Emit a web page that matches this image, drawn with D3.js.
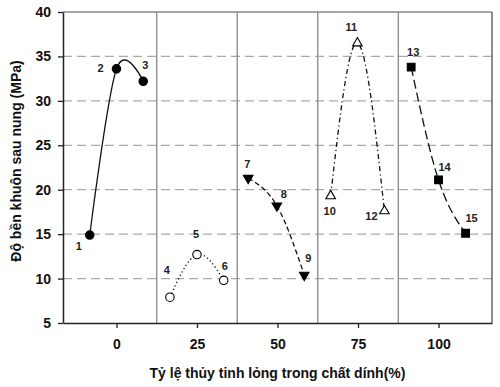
<!DOCTYPE html>
<html>
<head>
<meta charset="utf-8">
<script src="https://cdn.jsdelivr.net/npm/d3@7"></script>
<style>
  body { margin: 0; background: #fff; }
  svg { display: block; font-family: "Liberation Sans", Arial, sans-serif; }
</style>
</head>
<body>
<svg width="500" height="387"></svg>
<script>
// data
var xTicks = [0, 25, 50, 75, 100];
var yTicks = [5, 10, 15, 20, 25, 30, 35, 40];
var groupBounds = [12.5, 37.5, 62.5, 87.5];

var pointIds = [1, 2, 3, 4, 5, 6, 7, 8, 9, 10, 11, 12, 13, 14, 15];
var pointX = [-8.3, 0, 8.3, 16.6, 25, 33.3, 40.9, 49.8, 58.3, 66.5, 74.8, 83.2, 91.5, 100, 108.4];
var pointY = [14.9, 33.6, 32.2, 7.9, 12.7, 9.8, 21.3, 18.2, 10.4, 19.3, 36.5, 17.6, 33.8, 21.1, 15.1];
var seriesOf = [0, 0, 0, 1, 1, 1, 2, 2, 2, 3, 3, 3, 4, 4, 4];

var xTitle = "Tỷ lệ thủy tinh lỏng trong chất dính(%)";
var yTitle = "Độ bền khuôn sau nung (MPa)";

// styling
var seriesStyle = [
  {dash: null, symbol: d3.symbolCircle, size: 56, fill: "#000", rot: 0, curve: d3.curveCardinal},
  {dash: "1.3,2.6", symbol: d3.symbolCircle, size: 56, fill: "#fff", rot: 0, curve: d3.curveNatural},
  {dash: "5,3", symbol: d3.symbolTriangle, size: 40, fill: "#000", rot: 180, curve: d3.curveNatural},
  {dash: "5,3,1.3,3", symbol: d3.symbolTriangle, size: 40, fill: "#fff", rot: 0, curve: d3.curveNatural},
  {dash: "9,4", symbol: d3.symbolSquare, size: 60, fill: "#000", rot: 0, curve: d3.curveNatural}
];
var labelOffset = {
  1: [-11, 11], 2: [-16, -1], 3: [2, -16], 4: [-3, -27], 5: [-1, -20],
  6: [1, -14], 7: [-1, -14], 8: [7, -12], 9: [4, -17], 10: [-1, 15],
  11: [-6, -16], 12: [-13, 5], 13: [2, -15], 14: [6, -13], 15: [6, -15]
};

var svg = d3.select("svg"),
    margin = {top: 12, right: 8, bottom: 64, left: 63},
    width = +svg.attr("width") - margin.left - margin.right,
    height = +svg.attr("height") - margin.top - margin.bottom,
    g = svg.append("g").attr("transform", "translate(" + margin.left + "," + margin.top + ")");

var x = d3.scaleLinear().domain([-16.6, 116.6]).range([0, width]);
var y = d3.scaleLinear().domain([5, 40]).range([height, 0]);

// dashed horizontal grid
g.append("g").selectAll("line")
  .data(yTicks.filter(function (d) { return d > 5 && d < 40; }))
  .enter().append("line")
    .attr("x1", 0).attr("x2", width)
    .attr("y1", function (d) { return y(d); })
    .attr("y2", function (d) { return y(d); })
    .attr("stroke", "#aaa")
    .attr("stroke-width", 1.2)
    .attr("stroke-dasharray", "9,5");

// solid separators between groups
g.append("g").selectAll("line")
  .data(groupBounds)
  .enter().append("line")
    .attr("x1", function (d) { return x(d); })
    .attr("x2", function (d) { return x(d); })
    .attr("y1", 0).attr("y2", height)
    .attr("stroke", "#888")
    .attr("stroke-width", 1.3);

// frame top / right
g.append("line").attr("x1", 0).attr("x2", width).attr("y1", 0).attr("y2", 0)
  .attr("stroke", "#888").attr("stroke-width", 1.3);
g.append("line").attr("x1", width).attr("x2", width).attr("y1", 0).attr("y2", height)
  .attr("stroke", "#666").attr("stroke-width", 1.5);

// axes
var axisX = g.append("g")
  .attr("transform", "translate(0," + height + ")")
  .call(d3.axisBottom(x).tickValues(xTicks).tickSize(5).tickPadding(11).tickSizeOuter(0));
var axisY = g.append("g")
  .call(d3.axisLeft(y).tickValues(yTicks).tickSize(5).tickPadding(7).tickSizeOuter(0));

[axisX, axisY].forEach(function (a) {
  a.select(".domain").attr("stroke", "#222").attr("stroke-width", 1.5);
  a.selectAll(".tick line").attr("stroke", "#222").attr("stroke-width", 1.3);
  a.selectAll(".tick text")
    .attr("fill", "#111")
    .style("font-size", "14px")
    .style("font-weight", "bold")
    .style("font-family", "'Liberation Sans', Arial, sans-serif");
});

// build series from the arrays
var series = d3.range(seriesStyle.length).map(function (s) {
  return pointIds.map(function (id, i) {
    return {id: id, x: pointX[i], y: pointY[i], s: seriesOf[i]};
  }).filter(function (d) { return d.s === s; });
});

g.append("g").selectAll("path")
  .data(series)
  .enter().append("path")
    .attr("d", function (d, i) {
      return d3.line()
        .x(function (p) { return x(p.x); })
        .y(function (p) { return y(p.y); })
        .curve(seriesStyle[i].curve)(d);
    })
    .attr("fill", "none")
    .attr("stroke", "#111")
    .attr("stroke-width", 1.3)
    .attr("stroke-dasharray", function (d, i) { return seriesStyle[i].dash; });

var all = d3.merge(series);

g.append("g").selectAll("path")
  .data(all)
  .enter().append("path")
    .attr("d", function (d) {
      var st = seriesStyle[d.s];
      return d3.symbol().type(st.symbol).size(st.size)();
    })
    .attr("transform", function (d) {
      return "translate(" + x(d.x) + "," + y(d.y) + ") rotate(" + seriesStyle[d.s].rot + ")";
    })
    .attr("fill", function (d) { return seriesStyle[d.s].fill; })
    .attr("stroke", "#000")
    .attr("stroke-width", 1.1);

g.append("g").selectAll("text")
  .data(all)
  .enter().append("text")
    .attr("x", function (d) { return x(d.x) + labelOffset[d.id][0]; })
    .attr("y", function (d) { return y(d.y) + labelOffset[d.id][1]; })
    .attr("text-anchor", "middle")
    .attr("dy", "0.35em")
    .style("font-size", "11px")
    .style("font-weight", "bold")
    .attr("fill", "#222")
    .text(function (d) { return d.id; });

// titles
svg.append("text")
  .attr("x", margin.left + width / 2)
  .attr("y", 378)
  .attr("text-anchor", "middle")
  .style("font-size", "14px")
  .style("font-weight", "bold")
  .attr("fill", "#111")
  .text(xTitle);

svg.append("text")
  .attr("transform", "translate(21,161) rotate(-90)")
  .attr("text-anchor", "middle")
  .style("font-size", "14px")
  .style("font-weight", "bold")
  .attr("fill", "#111")
  .text(yTitle);
</script>
</body>
</html>
